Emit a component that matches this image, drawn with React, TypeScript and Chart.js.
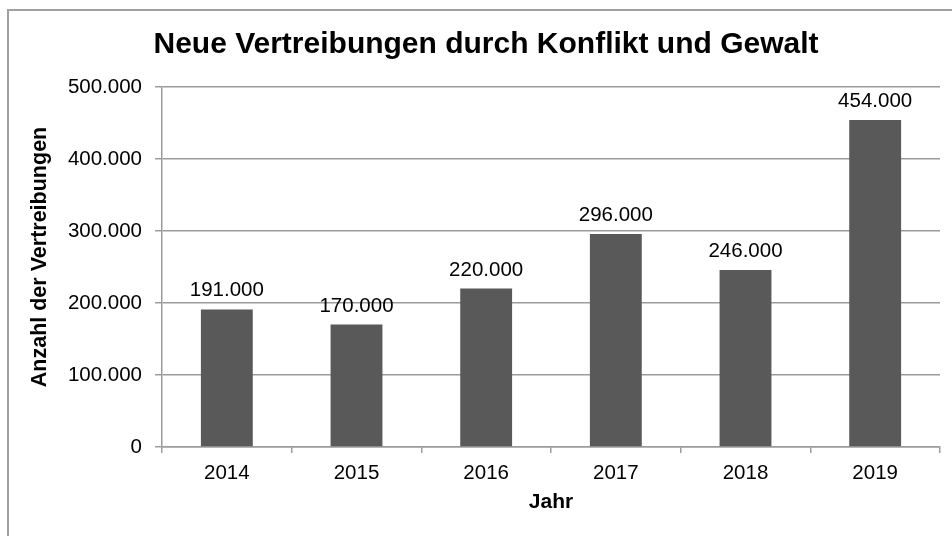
import React, { useEffect, useRef } from 'react';
import { Chart, registerables } from 'chart.js';

Chart.register(...registerables);

const years = ['2014', '2015', '2016', '2017', '2018', '2019'];
const displacements = [191000, 170000, 220000, 296000, 246000, 454000];
const yTicks = [0, 100000, 200000, 300000, 400000, 500000];
const chartTitle = 'Neue Vertreibungen durch Konflikt und Gewalt';
const xTitle = 'Jahr';
const yTitle = 'Anzahl der Vertreibungen';

const FONT = '"Liberation Sans", Arial, Helvetica, sans-serif';
const GRID = '#9c9c9c';
const BAR = '#595959';

const fmt = (n: number) => String(n).replace(/\B(?=(\d{3})+(?!\d))/g, '.');

const overlay = {
  id: 'overlay',
  afterDatasetsDraw(chart: any) {
    const ctx = chart.ctx;
    const meta = chart.getDatasetMeta(0);
    ctx.save();
    ctx.fillStyle = '#000';
    ctx.textAlign = 'center';
    ctx.textBaseline = 'alphabetic';
    ctx.font = `20.5px ${FONT}`;
    meta.data.forEach((bar: any, i: number) => {
      ctx.fillText(fmt(displacements[i]), bar.x, bar.y - 13);
    });
    ctx.font = `bold 30px ${FONT}`;
    ctx.fillText(chartTitle, 477, 42);
    // y axis title
    ctx.translate(31, 246);
    ctx.rotate(-Math.PI / 2);
    ctx.textBaseline = 'middle';
    ctx.font = `bold 21.5px ${FONT}`;
    ctx.fillText(yTitle, 0, 0);
    ctx.restore();
  },
};

export default function App() {
  const ref = useRef<HTMLCanvasElement | null>(null);

  useEffect(() => {
    if (!ref.current) return;
    const chart = new Chart(ref.current, {
      type: 'bar',
      data: {
        labels: years,
        datasets: [
          {
            data: displacements,
            backgroundColor: BAR,
            borderWidth: 0,
            barPercentage: 0.4,
            categoryPercentage: 1,
          },
        ],
      },
      options: {
        animation: false,
        responsive: false,
        devicePixelRatio: 1,
        layout: { padding: { top: 76, right: 12, left: 0, bottom: 0 } },
        plugins: {
          legend: { display: false },
          tooltip: { enabled: false },
          title: { display: false },
        },
        scales: {
          x: {
            afterFit: (s: any) => {
              s.height = 89;
            },
            grid: {
              display: true,
              drawOnChartArea: false,
              drawTicks: true,
              tickLength: 6,
              offset: true,
              color: GRID,
              lineWidth: 1.5,
            },
            border: { display: true, color: GRID, width: 1.5 },
            ticks: {
              color: '#000',
              font: { family: FONT, size: 20.5 },
              padding: 8,
              maxRotation: 0,
            },
            title: {
              display: true,
              text: xTitle,
              color: '#000',
              font: { family: FONT, size: 21, weight: 'bold', lineHeight: 1.2 },
              padding: { top: 0, bottom: 21 },
            },
          },
          y: {
            min: 0,
            max: 500000,
            afterFit: (s: any) => {
              s.width = 153;
            },
            afterBuildTicks: (s: any) => {
              s.ticks = yTicks.map((v) => ({ value: v }));
            },
            grid: {
              display: true,
              drawOnChartArea: true,
              drawTicks: true,
              tickLength: 7,
              color: GRID,
              lineWidth: 1.5,
            },
            border: { display: true, color: GRID, width: 1.5 },
            ticks: {
              color: '#000',
              font: { family: FONT, size: 20.5 },
              padding: 13,
              callback: (v: any) => fmt(Number(v)),
            },
            title: { display: false },
          },
        },
      },
      plugins: [overlay],
    });
    return () => chart.destroy();
  }, []);

  return (
    <div
      style={{
        position: 'fixed',
        left: 7,
        top: 9,
        width: 945,
        height: 527,
        borderLeft: '2px solid #a0a0a0',
        borderTop: '2px solid #a0a0a0',
        boxSizing: 'border-box',
        background: '#fff',
        overflow: 'hidden',
      }}
    >
      <canvas ref={ref} width={943} height={525} style={{ display: 'block', width: 943, height: 525 }} />
    </div>
  );
}
